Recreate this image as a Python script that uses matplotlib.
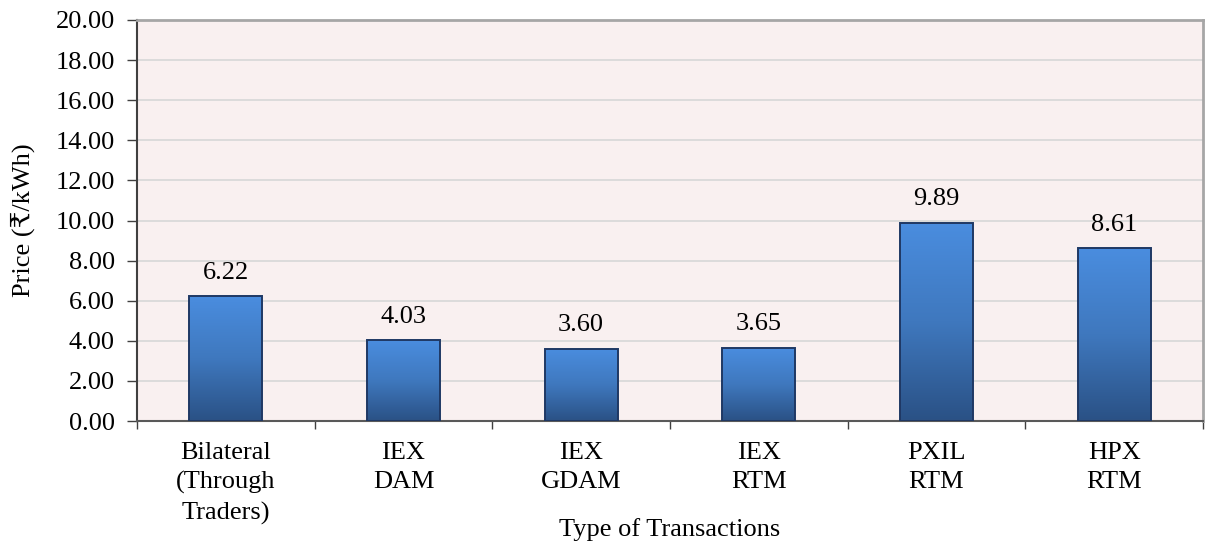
import matplotlib
matplotlib.use("Agg")
import matplotlib.pyplot as plt
import numpy as np
from matplotlib.colors import LinearSegmentedColormap

categories = ["Bilateral\n(Through\nTraders)", "IEX\nDAM", "IEX\nGDAM", "IEX\nRTM", "PXIL\nRTM", "HPX\nRTM"]
prices = [6.22, 4.03, 3.60, 3.65, 9.89, 8.61]
yticks = [0, 2, 4, 6, 8, 10, 12, 14, 16, 18, 20]

plt.rcParams['font.family'] = ['Liberation Serif', 'DejaVu Serif', 'DejaVu Sans']
FS = 19

fig = plt.figure(figsize=(12.07, 5.46), dpi=100)
ax = fig.add_axes([137/1207, 1-421/546, (1203-137)/1207, (421-20)/546])
ax.set_facecolor('#F9F0F0')

x = np.arange(len(categories))
bars = ax.bar(x, prices, width=0.41, color='none', edgecolor='#1F3864', linewidth=1.4, zorder=3)

cmap = LinearSegmentedColormap.from_list('g', ['#2A5185', '#3F78BE', '#4A8DDF'])
grad = np.linspace(0, 1, 256).reshape(-1, 1)
for b in bars:
    x0, y0 = b.get_x(), b.get_y()
    w, h = b.get_width(), b.get_height()
    im = ax.imshow(grad, cmap=cmap, aspect='auto', origin='lower',
                   extent=[x0, x0 + w, y0, y0 + h], zorder=2, interpolation='bilinear')
    im.set_clip_path(b)

for xi, v in zip(x, prices):
    ax.annotate(f"{v:.2f}", (xi, v), xytext=(0, 9), textcoords='offset points',
                ha='center', va='bottom', fontsize=FS)

ax.set_xlim(-0.5, len(categories) - 0.5)
ax.set_ylim(0, 20)
ax.set_yticks(yticks)
ax.set_yticklabels([f"{t:.2f}" for t in yticks], fontsize=FS)
ax.yaxis.grid(True, color='#D9D9D9', linewidth=1.3, zorder=0)
ax.set_axisbelow(True)

ax.set_xticks(x)
ax.set_xticklabels(categories, fontsize=FS, linespacing=1.42)
ax.set_xticks(np.arange(len(categories) + 1) - 0.5, minor=True)
ax.tick_params(axis='x', which='major', length=0, pad=15)
ax.tick_params(axis='x', which='minor', length=6, width=1, direction='out', color='#404040')
ax.tick_params(axis='y', length=7, width=1, color='#404040', pad=9)

for s in ['top', 'right']:
    ax.spines[s].set_color('#A6A6A6')
    ax.spines[s].set_linewidth(2)
ax.spines['left'].set_color('#404040')
ax.spines['left'].set_linewidth(1.5)
ax.spines['bottom'].set_color('#595959')
ax.spines['bottom'].set_linewidth(1.5)

ax.set_ylabel("Price (₹/kWh)", fontsize=FS, va='center')
ax.yaxis.set_label_coords((23 - 137) / 1066, 0.5)
ax.set_xlabel("Type of Transactions", fontsize=FS, va='center')
ax.xaxis.set_label_coords(0.5, (421 - 530) / 401)

fig.savefig("out.png", dpi=100)
